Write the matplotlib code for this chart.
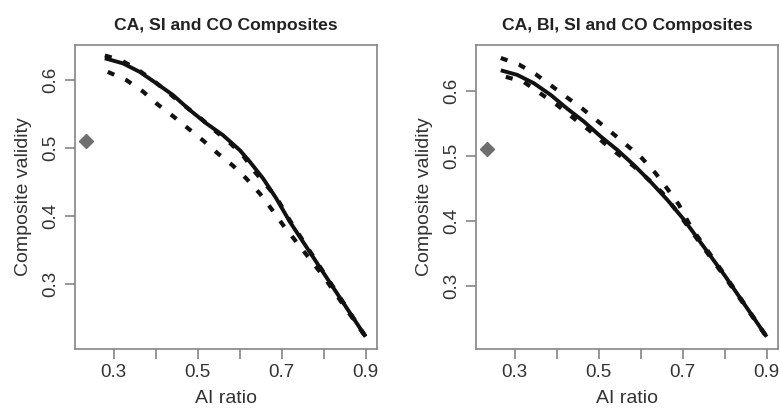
import matplotlib
matplotlib.use("Agg")
import matplotlib.pyplot as plt

plt.rcParams['font.family'] = ['Liberation Sans', 'DejaVu Sans']

# ---------------- data ----------------
titles = ["CA, SI and CO Composites", "CA, BI, SI and CO Composites"]
x_label = "AI ratio"
y_label = "Composite validity"
x_ticks = [0.3, 0.4, 0.5, 0.6, 0.7, 0.8, 0.9]
x_tick_labels = ["0.3", "", "0.5", "", "0.7", "", "0.9"]
y_ticks = [0.3, 0.4, 0.5, 0.6]
y_tick_labels = ["0.3", "0.4", "0.5", "0.6"]

# left panel
L_solid_x = [0.279, 0.322, 0.362, 0.402, 0.441, 0.481, 0.521, 0.560, 0.600, 0.624, 0.656, 0.687, 0.719, 0.800, 0.900]
L_solid_y = [0.632, 0.6245, 0.612, 0.595, 0.578, 0.556, 0.536, 0.519, 0.497, 0.480, 0.455, 0.426, 0.392, 0.316, 0.2225]
L_upper_x = [0.279, 0.318, 0.358, 0.397, 0.433, 0.469, 0.505, 0.540, 0.576, 0.608, 0.636, 0.687, 0.719, 0.800, 0.900]
L_upper_y = [0.636, 0.629, 0.615, 0.598, 0.580, 0.562, 0.545, 0.526, 0.508, 0.489, 0.465, 0.428, 0.394, 0.317, 0.2225]
L_lower_x = [0.286, 0.330, 0.370, 0.405, 0.441, 0.477, 0.513, 0.548, 0.584, 0.616, 0.648, 0.675, 0.703, 0.800, 0.900]
L_lower_y = [0.612, 0.600, 0.583, 0.564, 0.547, 0.529, 0.511, 0.492, 0.474, 0.455, 0.433, 0.411, 0.387, 0.311, 0.222]
L_point_x = [0.235]
L_point_y = [0.51]

# right panel
R_solid_x = [0.267, 0.306, 0.346, 0.386, 0.425, 0.465, 0.505, 0.545, 0.584, 0.624, 0.664, 0.703, 0.800, 0.900]
R_solid_y = [0.632, 0.625, 0.612, 0.594, 0.573, 0.553, 0.530, 0.509, 0.486, 0.460, 0.432, 0.402, 0.316, 0.2215]
R_upper_x = [0.267, 0.310, 0.350, 0.388, 0.425, 0.461, 0.497, 0.533, 0.568, 0.604, 0.636, 0.664, 0.691, 0.720, 0.800, 0.900]
R_upper_y = [0.651, 0.641, 0.626, 0.608, 0.590, 0.573, 0.554, 0.535, 0.516, 0.496, 0.473, 0.449, 0.425, 0.390, 0.317, 0.2215]
R_lower_x = [0.279, 0.322, 0.362, 0.402, 0.437, 0.477, 0.513, 0.548, 0.584, 0.620, 0.652, 0.680, 0.720, 0.800, 0.900]
R_lower_y = [0.622, 0.614, 0.596, 0.578, 0.560, 0.540, 0.520, 0.502, 0.484, 0.463, 0.443, 0.420, 0.385, 0.314, 0.221]
R_point_x = [0.235]
R_point_y = [0.51]

panels = [
    dict(title=titles[0], solid=(L_solid_x, L_solid_y), upper=(L_upper_x, L_upper_y),
         lower=(L_lower_x, L_lower_y), point=(L_point_x, L_point_y),
         pos=[75/780, 1-349/416, 302/780, 304/416], ylim=(0.2044, 0.6515)),
    dict(title=titles[1], solid=(R_solid_x, R_solid_y), upper=(R_upper_x, R_upper_y),
         lower=(R_lower_x, R_lower_y), point=(R_point_x, R_point_y),
         pos=[476/780, 1-349/416, 302/780, 304/416], ylim=(0.2026, 0.671)),
]

frame_col = '#858585'
text_col = '#333333'

fig = plt.figure(figsize=(7.8, 4.16), dpi=100)
fig.patch.set_facecolor('white')

for p in panels:
    ax = fig.add_axes(p['pos'])
    dash = (0, (1.7, 2.9))
    ax.plot(*p['upper'], color='#111111', lw=3.0, linestyle=dash, solid_capstyle='butt')
    ax.plot(*p['lower'], color='#111111', lw=3.0, linestyle=dash, solid_capstyle='butt')
    ax.plot(*p['solid'], color='#111111', lw=2.8, solid_capstyle='butt')
    ax.plot(*p['point'], marker='D', markersize=7.5, color='#6e6e6e', linestyle='none')
    ax.set_xlim(0.208, 0.927)
    ax.set_ylim(*p['ylim'])
    ax.set_xticks(x_ticks)
    ax.set_xticklabels(x_tick_labels)
    ax.set_yticks(y_ticks)
    ax.set_yticklabels(y_tick_labels, rotation=90, va='center')
    for s in ax.spines.values():
        s.set_color(frame_col)
        s.set_linewidth(1.2)
    ax.tick_params(axis='both', colors=frame_col, labelcolor=text_col, length=7.5, width=1.2,
                   labelsize=13.5)
    ax.tick_params(axis='x', pad=3)
    ax.tick_params(axis='y', pad=4)
    ax.set_xlabel(x_label, fontsize=14, color=text_col, labelpad=7)
    ax.set_ylabel(y_label, fontsize=14, color=text_col, labelpad=7)
    ax.set_title(p['title'], fontsize=12.6, fontweight='bold', color='#222222', pad=11)

fig.savefig('out.png', dpi=100)
